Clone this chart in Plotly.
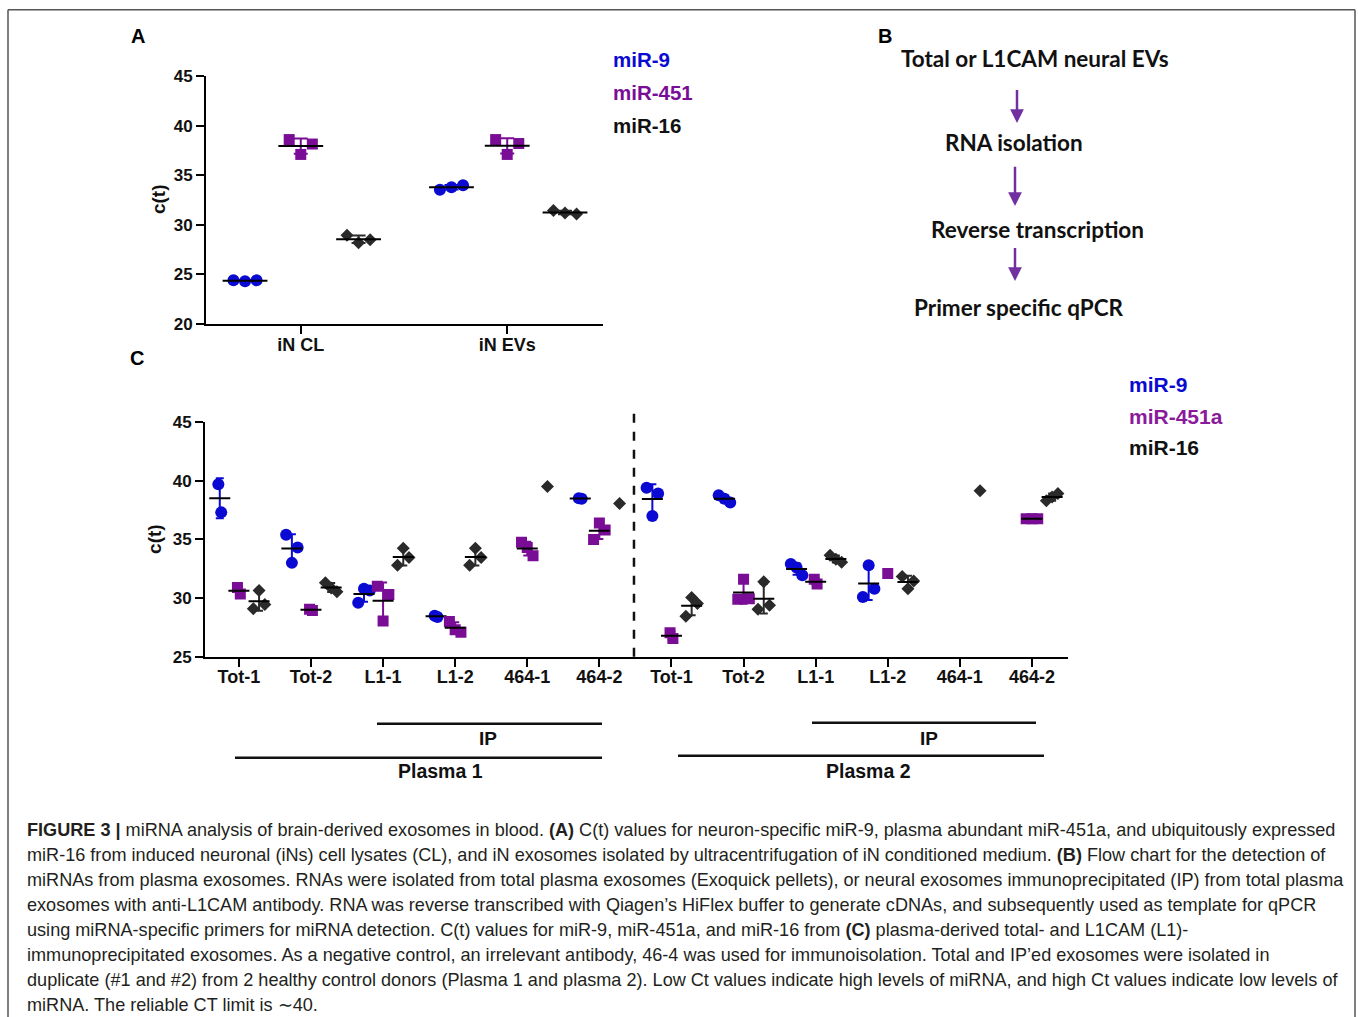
import numpy as np
import plotly.graph_objects as go

W = 1358
H_FIG = 1028   # page shows the figure below an 8px top margin, squeezed vertically
Y_OFF = 8
Y_SCALE = 0.982

# ---------------- Data ----------------
series_names = ["miR-9", "miR-451", "miR-16"]
series_names_c = ["miR-9", "miR-451a", "miR-16"]

# Panel A
a_categories = ["iN CL", "iN EVs"]
a_mir9 = [[24.4, 24.3, 24.4], [33.55, 33.8, 34.0]]
a_mir451 = [[38.6, 37.1, 38.15], [38.6, 37.1, 38.2]]
a_mir16 = [[28.95, 28.2, 28.5], [31.45, 31.2, 31.1]]

# Panel C (Plasma 1: first six groups, Plasma 2: last six groups)
c_categories = ["Tot-1", "Tot-2", "L1-1", "L1-2", "464-1", "464-2",
                "Tot-1", "Tot-2", "L1-1", "L1-2", "464-1", "464-2"]
c_mir9 = [[39.7, 37.3], [35.4, 33.0, 34.3], [29.6, 30.8, 30.65], [28.5, 28.4], [], [38.5, 38.45],
          [39.4, 37.0, 38.9], [38.75, 38.45, 38.15], [32.9, 32.6, 31.95], [30.1, 32.8, 30.8], [], []]
c_mir451 = [[30.9, 30.35], [29.05, 28.95], [31.0, 28.05, 30.3], [28.0, 27.3, 27.1], [34.75, 34.3, 33.6],
            [35.0, 36.4, 35.8],
            [27.05, 26.55], [29.9, 31.6, 29.95], [31.6, 31.2], [32.1], [], [36.75, 36.75, 36.75]]
c_mir16 = [[29.1, 30.65, 29.45], [31.3, 30.85, 30.55], [32.8, 34.25, 33.45], [32.8, 34.25, 33.45], [39.5],
           [38.05],
           [28.45, 30.05, 29.55], [29.05, 31.4, 29.4], [33.65, 33.3, 33.05], [31.85, 30.8, 31.45], [39.15],
           [38.3, 38.6, 38.9]]

flow_steps = ["Total or L1CAM neural EVs", "RNA isolation", "Reverse transcription", "Primer specific qPCR"]

caption_lines = [
    "<b>FIGURE 3 |</b> miRNA analysis of brain-derived exosomes in blood. <b>(A)</b> C(t) values for neuron-specific miR-9, plasma abundant miR-451a, and ubiquitously expressed",
    "miR-16 from induced neuronal (iNs) cell lysates (CL), and iN exosomes isolated by ultracentrifugation of iN conditioned medium. <b>(B)</b> Flow chart for the detection of",
    "miRNAs from plasma exosomes. RNAs were isolated from total plasma exosomes (Exoquick pellets), or neural exosomes immunoprecipitated (IP) from total plasma",
    "exosomes with anti-L1CAM antibody. RNA was reverse transcribed with Qiagen\u2019s HiFlex buffer to generate cDNAs, and subsequently used as template for qPCR",
    "using miRNA-specific primers for miRNA detection. C(t) values for miR-9, miR-451a, and miR-16 from <b>(C)</b> plasma-derived total- and L1CAM (L1)-",
    "immunoprecipitated exosomes. As a negative control, an irrelevant antibody, 46-4 was used for immunoisolation. Total and IP\u2019ed exosomes were isolated in",
    "duplicate (#1 and #2) from 2 healthy control donors (Plasma 1 and plasma 2). Low Ct values indicate high levels of miRNA, and high Ct values indicate low levels of",
    "miRNA. The reliable CT limit is \u223c40.",
]

# ---------------- Style ----------------
BLUE = "#0a0ad2"
PURPLE = "#7a0d96"
BLACK = "#2a2a2a"
colors = [BLUE, PURPLE, BLACK]
symbols = ["circle", "square", "diamond"]
FONT = "Liberation Sans, Arial, sans-serif"


def px(x):
    return x / W


def py(y):
    return 1 - (y / Y_SCALE - Y_OFF) / H_FIG


def jitter(n, j):
    if n == 1:
        return [0.0]
    if n == 2:
        return [-j * 0.25, j * 0.25]
    return list(np.linspace(-j, j, n))


fig = go.Figure()


def add_panel(groups_list, xaxis, yaxis, offsets, jit, msizes, mean_w, cap_w):
    for s, groups in enumerate(groups_list):
        xs, ys = [], []
        mx, my, msd = [], [], []
        for g, vals in enumerate(groups):
            if not vals:
                continue
            center = g + 1 + offsets[s]
            for dx, v in zip(jitter(len(vals), jit), vals):
                xs.append(center + dx)
                ys.append(v)
            if len(vals) > 1:
                mx.append(center)
                my.append(float(np.mean(vals)))
                msd.append(float(np.std(vals, ddof=1)))
        fig.add_trace(go.Scatter(
            x=xs, y=ys, mode="markers", xaxis=xaxis, yaxis=yaxis, showlegend=False,
            marker=dict(symbol=symbols[s], size=msizes[s], color=colors[s], line=dict(width=0)),
            hoverinfo="y"))
        fig.add_trace(go.Scatter(
            x=mx, y=my, mode="markers", xaxis=xaxis, yaxis=yaxis, showlegend=False,
            marker=dict(symbol="line-ew-open", size=mean_w, color="black", line=dict(width=2, color="black")),
            error_y=dict(type="data", array=msd, visible=True, color=colors[s], thickness=2, width=cap_w),
            hoverinfo="y"))


add_panel([a_mir9, a_mir451, a_mir16], "x", "y", [-0.27, 0.0, 0.28], 0.056, [12, 11, 10], 32, 7)
add_panel([c_mir9, c_mir451, c_mir16], "x2", "y2", [-0.265, 0.0, 0.28], 0.08, [12, 11, 10], 15, 4)

axis_common = dict(showline=True, linewidth=2, linecolor="black", ticks="outside", ticklen=8,
                   tickwidth=2, tickcolor="black", showgrid=False, zeroline=False)
xtickfont = dict(family=FONT, size=18, color="#111", weight="bold")
ytickfont = dict(family=FONT, size=17, color="#111", weight="bold")

fig.update_layout(
    width=W, height=H_FIG, margin=dict(l=0, r=0, t=0, b=0),
    paper_bgcolor="white", plot_bgcolor="white",
    xaxis=dict(domain=[px(206), px(603)], range=[0.541, 2.464], anchor="y",
               tickvals=[1, 2], ticktext=a_categories, tickfont=xtickfont,
               ticklabelstandoff=-5, **axis_common),
    yaxis=dict(domain=[py(323), py(75)], range=[20, 45], anchor="x",
               tickvals=[20, 25, 30, 35, 40, 45], tickfont=ytickfont, **axis_common),
    xaxis2=dict(domain=[px(205), px(1068)], range=[0.53, 12.5], anchor="y2",
                tickvals=list(range(1, 13)), ticktext=c_categories, tickfont=xtickfont,
                ticklabelstandoff=-5, **axis_common),
    yaxis2=dict(domain=[py(656), py(421)], range=[25, 45], anchor="x2",
                tickvals=[25, 30, 35, 40, 45], tickfont=ytickfont, **axis_common),
)

ann = []


def text(x, y, t, size, color="#111", bold=True, xanchor="center", family=FONT, angle=0):
    ann.append(dict(x=px(x), y=py(y), xref="paper", yref="paper", text=t, showarrow=False,
                    xanchor=xanchor, yanchor="middle", textangle=angle,
                    font=dict(family=family, size=size, color=color, weight="bold" if bold else "normal")))


# Panel letters
text(138, 35, "A", 20, "#000")
text(885, 35, "B", 20, "#000")
text(137, 357, "C", 20, "#000")

# y titles
text(158, 198, "c(t)", 19, "#111", angle=-90)
text(155, 538, "c(t)", 19, "#111", angle=-90)

# Legends
for i, (nm, yy) in enumerate(zip(series_names, [58, 91, 124])):
    text(611, yy, nm, 20.5, [BLUE, PURPLE, "#111"][i], xanchor="left")
for i, (nm, yy) in enumerate(zip(series_names_c, [384, 416, 447])):
    text(1127, yy, nm, 21, [BLUE, "#8b1a9b", "#111"][i], xanchor="left")

# Panel B flow chart
FLOW_FONT = "Lato, Open Sans, sans-serif"
for t, (xx, yy) in zip(flow_steps, [(1035, 57), (1014, 141), (1037, 228), (1019, 307)]):
    text(xx, yy, t, 22.5, "#111", family=FLOW_FONT)
for (xx, y0, y1) in [(1017, 88, 122), (1015, 165, 205), (1015, 246, 280)]:
    ann.append(dict(x=px(xx), y=py(y1), xref="paper", yref="paper", ax=0, ay=-(y1 - y0) / Y_SCALE,
                    text="", showarrow=True, arrowhead=2, arrowsize=1.1, arrowwidth=2.5,
                    arrowcolor="#7030a0"))

# Bracket labels
text(488, 738, "IP", 19, "#111")
text(440, 770, "Plasma 1", 19.5, "#111")
text(929, 738, "IP", 19, "#111")
text(869, 770, "Plasma 2", 19.5, "#111")

# Caption
for i, line in enumerate(caption_lines):
    text(25, 829 + 25 * i, line, 18.1, "#231f20", bold=False, xanchor="left")

shapes = []
# bracket lines
for (x0, x1, yy) in [(377, 602, 723), (235, 602, 757), (812, 1036, 722), (678, 1044, 755)]:
    shapes.append(dict(type="line", xref="paper", yref="paper", x0=px(x0), x1=px(x1), y0=py(yy), y1=py(yy),
                       line=dict(color="#111", width=2.5)))
# dashed separator in panel C
shapes.append(dict(type="line", xref="x2", yref="paper", x0=6.48, x1=6.48, y0=py(656), y1=py(408),
                   line=dict(color="#111", width=2.5, dash="dash")))
# outer frame
shapes.append(dict(type="line", xref="paper", yref="paper", x0=px(8), x1=px(8), y0=-0.05, y1=py(8.5),
                   line=dict(color="#555", width=1.5)))
shapes.append(dict(type="line", xref="paper", yref="paper", x0=px(8), x1=px(1355), y0=py(8.5), y1=py(8.5),
                   line=dict(color="#555", width=1.5)))
shapes.append(dict(type="line", xref="paper", yref="paper", x0=px(1355), x1=px(1355), y0=-0.05, y1=py(8.5),
                   line=dict(color="#555", width=1.5)))

fig.update_layout(annotations=ann, shapes=shapes)
fig.write_html("out.html")
